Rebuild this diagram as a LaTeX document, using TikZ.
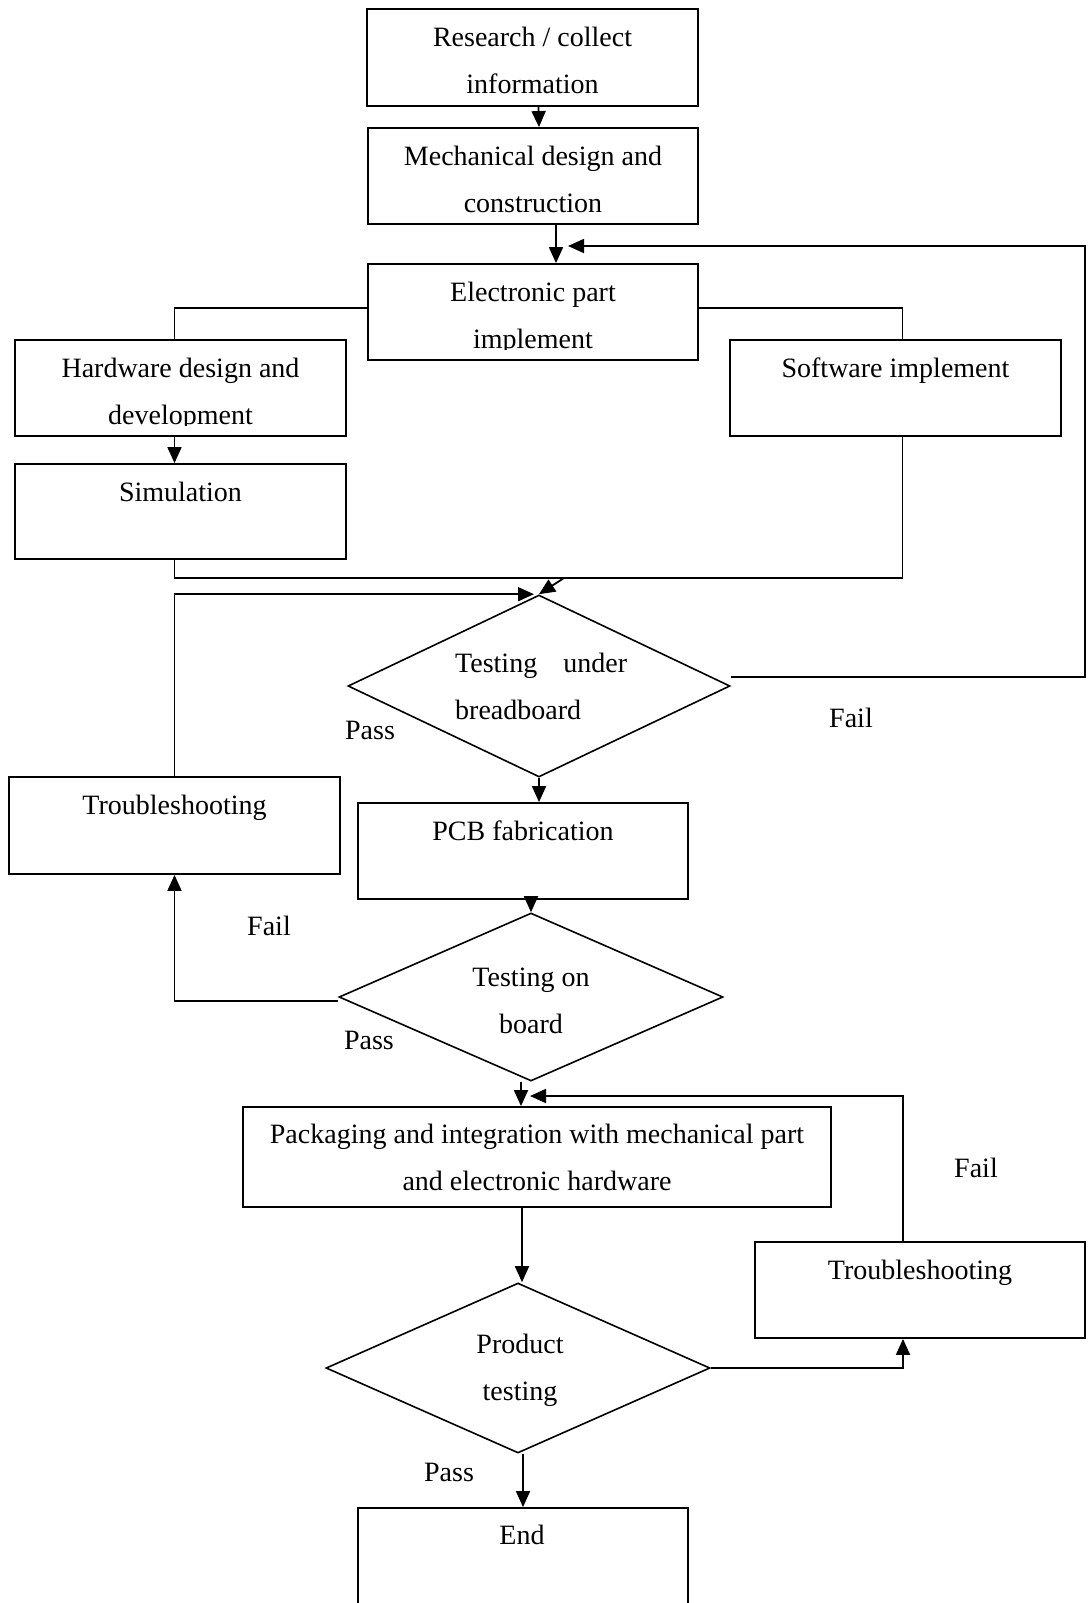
\documentclass[tikz,border=0pt]{standalone}
\usepackage{fontspec}
\setmainfont{Liberation Serif}
\usetikzlibrary{arrows.meta,shapes.geometric}
\newcommand{\Tstr}{\rule{0pt}{20pt}}
\begin{document}
\begin{tikzpicture}[x=1pt,y=-1pt,
  box/.style={draw, line width=1.8pt, rectangle, inner sep=0pt},
  dia/.style={draw, line width=1.6pt, diamond, inner sep=0pt},
  txt/.style={anchor=north, inner sep=0pt, font=\fontsize{28}{47}\selectfont, align=center},
  lbl/.style={anchor=base, inner sep=0pt, font=\fontsize{28}{34}\selectfont},
  arr/.style={line width=1.8pt, -{Triangle[length=16pt,width=14pt]}},
  conn/.style={line width=1.8pt},
  thinl/.style={line width=1.2pt}]
\useasboundingbox (0,0) rectangle (1087,1603);
\clip (0,0) rectangle (1087,1603);
\fill[white] (0,0) rectangle (1087,1603);

% boxes
\node[box, minimum width=331pt, minimum height=97pt] (research) at (532.5,57.5) {};
\node[box, minimum width=330pt, minimum height=96pt] (mech) at (533,176) {};
\node[box, minimum width=330pt, minimum height=96pt] (elec) at (533,312) {};
\node[box, minimum width=331pt, minimum height=96pt] (hw) at (180.5,388) {};
\node[box, minimum width=331pt, minimum height=96pt] (sw) at (895.5,388) {};
\node[box, minimum width=331pt, minimum height=95pt] (sim) at (180.5,511.5) {};
\node[dia, minimum width=382pt, minimum height=182pt] (d1) at (539,686) {};
\node[box, minimum width=331pt, minimum height=97pt] (ts1) at (174.5,825.5) {};
\node[box, minimum width=330pt, minimum height=96pt] (pcb) at (523,851) {};
\node[dia, minimum width=384pt, minimum height=168pt] (d2) at (531,997) {};
\node[box, minimum width=588pt, minimum height=100pt] (pack) at (537,1157) {};
\node[box, minimum width=330pt, minimum height=96pt] (ts2) at (920,1290) {};
\node[dia, minimum width=384pt, minimum height=170pt] (d3) at (518,1368) {};
\node[box, minimum width=330pt, minimum height=150pt] (end) at (523,1583) {};

% texts
\node[txt] (tR) at (532.5,26) {\Tstr Research / collect\\information};
\node[txt] (tM) at (533,145) {\Tstr Mechanical design and\\construction};
\begin{scope}
\clip (300,250) rectangle (760,349);
\node[txt] (tE) at (533,281) {\Tstr Electronic part\\implement};
\end{scope}
\begin{scope}
\clip (0,330) rectangle (360,425);
\node[txt] (tH) at (180.5,357) {\Tstr Hardware design and\\development};
\end{scope}
\node[txt] (tS) at (895.5,357) {\Tstr Software implement};
\node[txt] (tSim) at (180.5,481) {\Tstr Simulation};
\node[txt, anchor=north west, align=left] (tD1) at (455,652) {\Tstr\hbox to 172pt{Testing\hfill under}\\breadboard};
\node[txt] (tPCB) at (523,820) {\Tstr PCB fabrication};
\node[txt] (tTS1) at (174.5,794) {\Tstr Troubleshooting};
\node[txt] (tD2) at (531,966) {\Tstr Testing on\\board};
\node[txt] (tPack) at (537,1123) {\Tstr Packaging and integration with mechanical part\\and electronic hardware};
\node[txt] (tTS2) at (920,1259) {\Tstr Troubleshooting};
\node[txt] (tD3) at (520,1333) {\Tstr Product\\testing};
\node[txt] (tEnd) at (522,1524) {\Tstr End};

% labels
\node[lbl] (pass1) at (370,739) {Pass};
\node[lbl] (fail1) at (851,727) {Fail};
\node[lbl] (fail2) at (269,935) {Fail};
\node[lbl] (pass2) at (369,1049) {Pass};
\node[lbl] (fail3) at (976,1177) {Fail};
\node[lbl] (pass3) at (449,1481) {Pass};

% helper coordinates
\coordinate (fbR) at (1085,246);
\coordinate (mD) at (564,578);
\path ([xshift=35pt]elec.north) coordinate (e35);
\path ([xshift=7pt]sw.south) coordinate (s7);
\path ([xshift=-7pt]pack.north) coordinate (p7);
\coordinate (pR) at (903,1096);

% connectors
\draw[arr] ([xshift=6pt]research.south) -- ([xshift=6pt]mech.north);
\draw[arr] ([xshift=23pt]mech.south) -- ([xshift=23pt]elec.north);
\draw[arr] ([yshift=9pt]d1.east) -| (fbR) -- (e35 |- fbR);
\draw[thinl] ([yshift=4pt]elec.west) -| ([xshift=-6pt]hw.north);
\draw[thinl] ([yshift=4pt]elec.east) -| ([xshift=7pt]sw.north);
\draw[arr] ([xshift=-6pt]hw.south) -- ([xshift=-6pt]sim.north);
\draw[conn] ([xshift=-6pt]sim.south) |- (s7 |- mD) -- (s7);
\draw[arr] (mD) -- (d1.north);
\draw[arr] (ts1.north) |- ([xshift=-5pt]d1.north);
\draw[arr] (d1.south) -- (d1.south |- pcb.north);
\draw[arr] (pcb.south -| d2.north) -- (d2.north);
\draw[arr] ([yshift=-4pt]d2.west) -| (ts1.south);
\draw[arr] ([xshift=-10pt]d2.south) -- ([xshift=-10pt]d2.south |- pack.north);
\draw[arr] ([xshift=-17pt]ts2.north) |- (p7 |- pR);
\draw[arr] ([xshift=-15pt]pack.south) -- ([xshift=-15pt]pack.south |- d3.north);
\draw[arr] (d3.east) -| ([xshift=-17pt]ts2.south);
\draw[arr] (d3.south -| end.north) -- (end.north);
\end{tikzpicture}
\end{document}
